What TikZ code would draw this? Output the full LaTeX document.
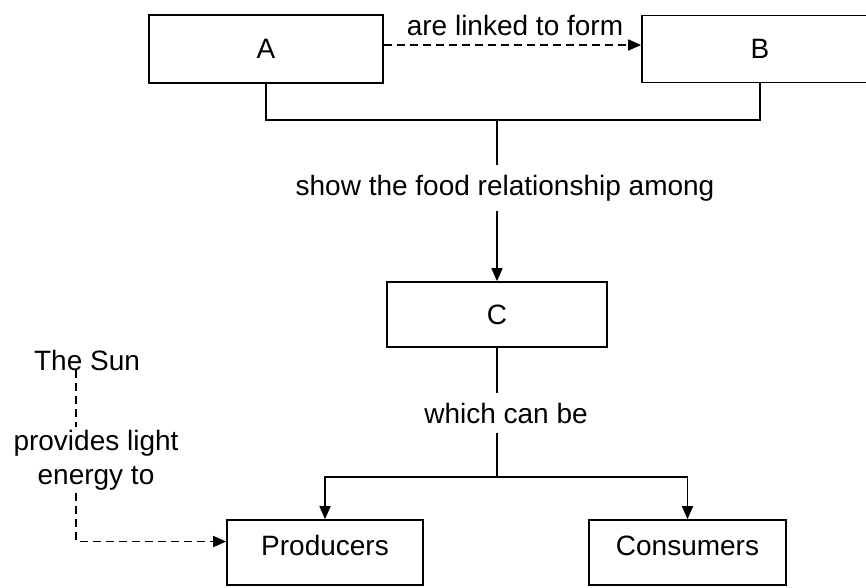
\documentclass[tikz,border=0pt]{standalone}
\usepackage{fontspec}
\setmainfont{Liberation Sans}
\usetikzlibrary{arrows.meta}
\tikzset{
  box/.style={draw, line width=1.7pt, inner sep=0pt, font=\fontsize{28}{34}\selectfont},
  lbl/.style={inner sep=0pt, align=center, font=\fontsize{28}{34}\selectfont},
  link/.style={line width=1.7pt},
  tip/.style={-{Triangle[length=13pt,width=11pt]}},
  dashlink/.style={link, dash pattern=on 8pt off 5pt}
}
\begin{document}
\begin{tikzpicture}[x=1pt,y=-1pt]
\clip (0,0) rectangle (866,587);
% Boxes
\node[box, minimum width=234pt, minimum height=68pt] (a) at (266,49) {A};
\node[box, minimum width=236pt, minimum height=67pt] (b) at (760,49) {B};
\node[box, minimum width=220pt, minimum height=65pt] (c) at (497,314.5) {C};
\node[box, minimum width=196pt, minimum height=65pt, text depth=14pt] (prod) at (325,552.5) {Producers};
\node[box, minimum width=197pt, minimum height=65pt, text depth=14pt] (cons) at (687.5,552.5) {Consumers};
% Labels
\node[lbl] (linked) at (515,25) {are linked to form};
\node[lbl, inner ysep=10pt] (food) at (505,188) {show the food relationship among};
\node[lbl, inner ysep=10pt] (which) at (506,413) {which can be};
\node[lbl] (sun) at (87,360) {The Sun};
\node[lbl, inner ysep=3pt] (light) at (96,460) {provides light\\energy to};
% Join points
\coordinate (split) at (497,120);
\coordinate (fork) at (497,477);
\coordinate (sunline) at (76,0);
% A and B into C
\draw[dashlink, tip] ([yshift=4pt]a.east) -- ([yshift=4pt]b.west);
\draw[link] (a.south) -- (a.south |- split) -- (b.south |- split) -- (b.south);
\draw[link] (split) -- (split |- food.north);
\draw[link, tip] (split |- food.south) -- (c.north);
% C into producers and consumers
\draw[link] (c.south) -- (c.south |- which.north);
\draw[link] (c.south |- which.south) -- (fork);
\draw[link, tip] (fork) -| (prod.north);
\draw[link, tip] (fork) -| (cons.north);
% The Sun
\draw[dashlink] (sun.south -| sunline) -- (light.north -| sunline);
\draw[dashlink, tip] (light.south -| sunline) |- ([yshift=11pt]prod.west);
\end{tikzpicture}
\end{document}
